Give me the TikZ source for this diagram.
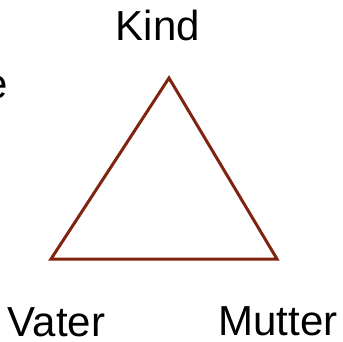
\documentclass[tikz,border=0pt]{standalone}
\usepackage{fontspec}
\setmainfont{Liberation Sans}
\usepackage{tikz}
\usetikzlibrary{positioning}
\definecolor{dreieck}{RGB}{128,36,16}

\begin{document}
\begin{tikzpicture}[
  x=1pt, y=-1pt,
  label/.style={anchor=base, inner sep=0pt, font=\fontsize{42}{50}\selectfont},
  line/.style={draw=dreieck, line width=3pt, line join=miter}
]
\useasboundingbox (0,0) rectangle (343,341);
\clip (0,0) rectangle (343,341);
\node[label, anchor=base east] (rest) at (8,98) {e};
\node[label] (kind) at (158,40) {Kind};
\node[label] (vater) at (56.5,336) {Vater};
\node[label] (mutter) at (278,335) {Mutter};
\coordinate (k) at (169,78);
\coordinate (v) at (51,259);
\coordinate (m) at (277,259);
\draw[line] (k) -- (v) -- (m) -- cycle;
\end{tikzpicture}
\end{document}
